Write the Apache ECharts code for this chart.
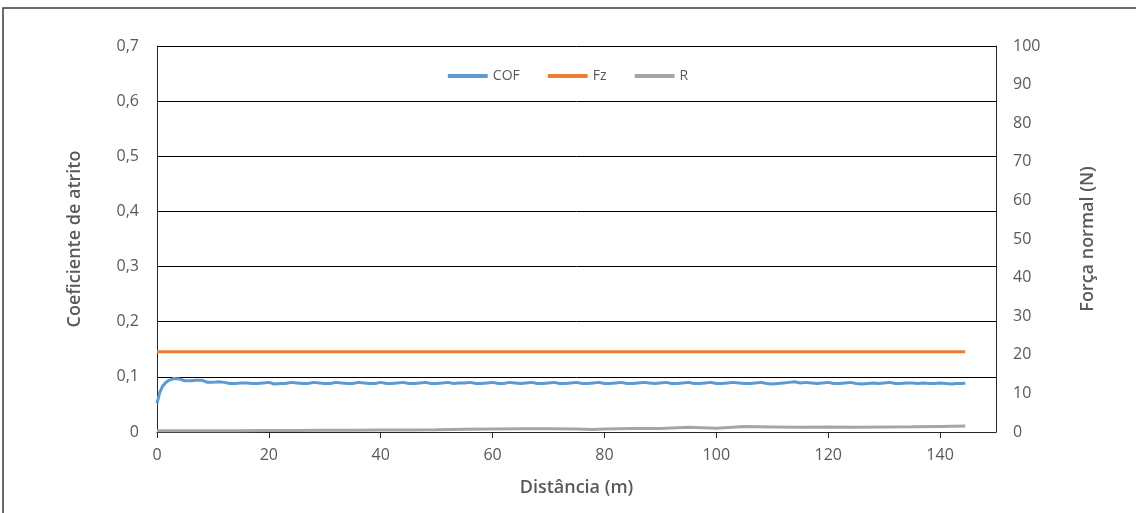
<!DOCTYPE html>
<html>
<head>
<meta charset="utf-8">
<script src="https://cdn.jsdelivr.net/npm/echarts@6/dist/echarts.min.js"></script>
<style>
html,body{margin:0;padding:0;background:#fff;}
#c{width:1136px;height:513px;}
</style>
</head>
<body>
<div id="c"></div>
<script>
// ---- data ----
const cofDist = [0,0.5,1,1.5,2,2.5,3,4,5,6,7,8,9,10,11,12,13,14,15,16,17,18,19,20,21,22,23,24,25,26,27,28,29,30,31,32,33,34,35,36,37,38,39,40,41,42,43,44,45,46,47,48,49,50,51,52,53,54,55,56,57,58,59,60,61,62,63,64,65,66,67,68,69,70,71,72,73,74,75,76,77,78,79,80,81,82,83,84,85,86,87,88,89,90,91,92,93,94,95,96,97,98,99,100,101,102,103,104,105,106,107,108,109,110,111,112,113,114,115,116,117,118,119,120,121,122,123,124,125,126,127,128,129,130,131,132,133,134,135,136,137,138,139,140,141,142,143,144,144.5];
const cofValues = [0.052,0.072,0.083,0.089,0.093,0.095,0.097,0.096,0.093,0.093,0.094,0.094,0.090,0.090,0.091,0.090,0.088,0.088,0.089,0.089,0.088,0.088,0.089,0.090,0.087,0.088,0.088,0.090,0.089,0.088,0.088,0.090,0.089,0.088,0.088,0.090,0.089,0.088,0.088,0.090,0.089,0.088,0.088,0.090,0.088,0.088,0.089,0.090,0.088,0.088,0.089,0.090,0.088,0.088,0.089,0.090,0.088,0.089,0.089,0.090,0.088,0.088,0.089,0.090,0.088,0.088,0.090,0.089,0.088,0.089,0.090,0.088,0.088,0.089,0.090,0.088,0.088,0.089,0.090,0.088,0.088,0.089,0.090,0.088,0.088,0.089,0.090,0.088,0.088,0.089,0.090,0.089,0.088,0.089,0.090,0.088,0.088,0.089,0.090,0.088,0.088,0.089,0.090,0.088,0.088,0.089,0.090,0.089,0.088,0.088,0.089,0.090,0.088,0.087,0.088,0.089,0.090,0.091,0.089,0.090,0.089,0.088,0.089,0.090,0.088,0.088,0.089,0.090,0.088,0.087,0.088,0.089,0.088,0.089,0.090,0.088,0.088,0.089,0.089,0.088,0.089,0.088,0.088,0.089,0.088,0.087,0.088,0.088,0.089];
const fzDist = [0,20,40,60,80,100,120,140,144.5];
const fzValues = [20.8,20.8,20.8,20.8,20.8,20.8,20.8,20.8,20.8];
const rDist = [0,5,10,15,20,25,30,35,40,45,50,55,60,65,70,75,78,80,85,90,95,100,105,110,115,120,125,130,135,140,144.5];
const rValues = [0.3,0.3,0.3,0.35,0.4,0.4,0.45,0.45,0.5,0.55,0.6,0.7,0.8,0.85,0.85,0.8,0.65,0.8,0.9,0.9,1.2,1.0,1.4,1.3,1.2,1.3,1.2,1.3,1.35,1.45,1.55];
const xTicks = [0,20,40,60,80,100,120,140];
const seriesNames = ['COF','Fz','R'];
const xTitle = 'Distância (m)';
const yLeftTitle = 'Coeficiente de atrito';
const yRightTitle = 'Força normal (N)';

const pair = (xs, ys) => xs.map((x, i) => [x, ys[i]]);
const FONT = '"Open Sans", sans-serif';
const TXT = '#595959';

const chart = echarts.init(document.getElementById('c'), null, {renderer: 'canvas'});
chart.setOption({
  animation: false,
  backgroundColor: '#fff',
  textStyle: {fontFamily: FONT},
  graphic: [{
    type: 'rect', silent: true, z: -1,
    shape: {x: 3, y: 8, width: 1150, height: 520},
    style: {fill: 'none', stroke: '#3a3a3a', lineWidth: 1.5}
  }],
  legend: {
    top: 64, left: 'center',
    itemWidth: 40, itemHeight: 4, itemGap: 28,
    icon: 'roundRect',
    textStyle: {color: TXT, fontSize: 14, fontFamily: FONT},
    data: seriesNames
  },
  grid: {left: 157, right: 140, top: 46, bottom: 81, containLabel: false},
  xAxis: {
    type: 'value', min: 0, max: 150, interval: 20,
    name: xTitle, nameLocation: 'middle', nameGap: 47,
    nameTextStyle: {color: TXT, fontSize: 18, fontWeight: 600, fontFamily: FONT},
    axisLine: {show: true, lineStyle: {color: '#262626', width: 1}},
    axisTick: {show: true, length: 6, inside: false, customValues: xTicks, lineStyle: {color: '#262626'}},
    axisLabel: {color: TXT, fontSize: 16, margin: 15, customValues: xTicks, fontFamily: FONT},
    splitLine: {show: false}
  },
  yAxis: [{
    type: 'value', min: 0, max: 0.7, interval: 0.1, position: 'left',
    name: yLeftTitle, nameLocation: 'middle', nameGap: 73, nameRotate: 90,
    nameTextStyle: {color: TXT, fontSize: 18, fontWeight: 600, fontFamily: FONT},
    axisLine: {show: true, lineStyle: {color: '#262626', width: 1}},
    axisTick: {show: false},
    axisLabel: {color: TXT, fontSize: 16, margin: 18, fontFamily: FONT,
      formatter: v => v === 0 ? '0' : v.toFixed(1).replace('.', ',')},
    splitLine: {show: true, lineStyle: {color: '#000', width: 1}}
  }, {
    type: 'value', min: 0, max: 100, interval: 10, position: 'right',
    name: yRightTitle, nameLocation: 'middle', nameGap: 83, nameRotate: 90,
    nameTextStyle: {color: TXT, fontSize: 18, fontWeight: 600, fontFamily: FONT},
    axisLine: {show: true, lineStyle: {color: '#262626', width: 1}},
    axisTick: {show: false},
    axisLabel: {color: TXT, fontSize: 16, margin: 17, fontFamily: FONT},
    splitLine: {show: false}
  }],
  series: [{
    name: seriesNames[0], type: 'line', yAxisIndex: 0, showSymbol: false,
    data: pair(cofDist, cofValues),
    itemStyle: {color: '#5B9BD5'}, lineStyle: {color: '#5B9BD5', width: 3}, z: 3
  }, {
    name: seriesNames[1], type: 'line', yAxisIndex: 1, showSymbol: false,
    data: pair(fzDist, fzValues),
    itemStyle: {color: '#ED7D31'}, lineStyle: {color: '#ED7D31', width: 3}, z: 3
  }, {
    name: seriesNames[2], type: 'line', yAxisIndex: 1, showSymbol: false,
    data: pair(rDist, rValues),
    itemStyle: {color: '#A5A5A5'}, lineStyle: {color: '#A5A5A5', width: 3}, z: 3
  }]
});
</script>
</body>
</html>
